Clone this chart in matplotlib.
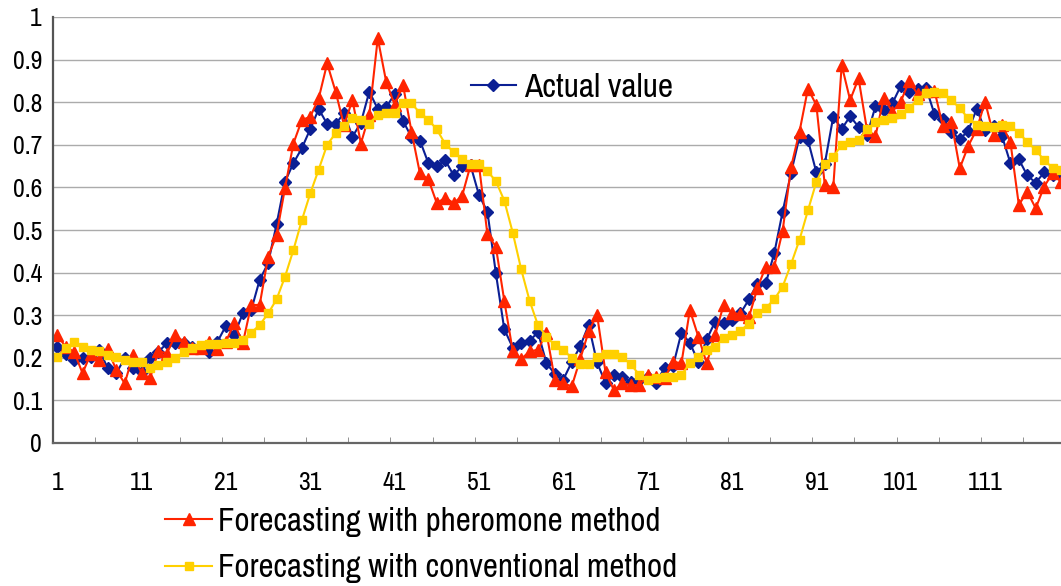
import matplotlib
matplotlib.use("Agg")
import matplotlib.pyplot as plt
from matplotlib import font_manager
from matplotlib.ticker import FixedLocator

# pick a narrow face if one is installed
fonts = font_manager.fontManager.ttflist
narrow = [f.name for f in fonts if 'Narrow' in f.name or 'Condensed' in f.name]
if narrow:
    plt.rcParams['font.family'] = [narrow[0], 'DejaVu Sans']
else:
    plt.rcParams['font.family'] = ['Liberation Sans', 'DejaVu Sans']

# series values
actual = [0.226, 0.210, 0.195, 0.199, 0.203, 0.218, 0.175, 0.164, 0.199, 0.175,
          0.167, 0.199, 0.214, 0.234, 0.234, 0.234, 0.226, 0.222, 0.214, 0.238,
          0.275, 0.254, 0.304, 0.312, 0.383, 0.422, 0.513, 0.613, 0.657, 0.692,
          0.737, 0.784, 0.749, 0.749, 0.774, 0.719, 0.752, 0.825, 0.784, 0.788,
          0.819, 0.756, 0.718, 0.710, 0.657, 0.650, 0.664, 0.628, 0.650, 0.652,
          0.582, 0.543, 0.399, 0.267, 0.224, 0.234, 0.240, 0.260, 0.187, 0.162,
          0.149, 0.190, 0.227, 0.277, 0.189, 0.141, 0.160, 0.154, 0.144, 0.148,
          0.156, 0.140, 0.177, 0.180, 0.259, 0.235, 0.191, 0.243, 0.285, 0.282,
          0.289, 0.304, 0.337, 0.374, 0.375, 0.445, 0.543, 0.634, 0.719, 0.711,
          0.635, 0.656, 0.766, 0.737, 0.767, 0.742, 0.722, 0.790, 0.781, 0.797,
          0.838, 0.825, 0.831, 0.834, 0.772, 0.761, 0.731, 0.713, 0.733, 0.784,
          0.735, 0.744, 0.721, 0.657, 0.666, 0.628, 0.611, 0.635, 0.630, 0.630]

pheromone = [0.253, 0.226, 0.214, 0.164, 0.210, 0.195, 0.220, 0.171, 0.140, 0.207,
             0.164, 0.152, 0.216, 0.210, 0.253, 0.238, 0.222, 0.222, 0.238, 0.220,
             0.238, 0.282, 0.234, 0.324, 0.324, 0.437, 0.488, 0.598, 0.703, 0.758,
             0.766, 0.809, 0.891, 0.825, 0.746, 0.805, 0.703, 0.770, 0.950, 0.848,
             0.794, 0.840, 0.731, 0.633, 0.619, 0.563, 0.576, 0.563, 0.580, 0.652,
             0.652, 0.490, 0.461, 0.334, 0.216, 0.197, 0.215, 0.219, 0.259, 0.148,
             0.140, 0.133, 0.197, 0.262, 0.301, 0.166, 0.124, 0.140, 0.136, 0.136,
             0.160, 0.156, 0.152, 0.191, 0.187, 0.312, 0.250, 0.187, 0.254, 0.324,
             0.306, 0.302, 0.295, 0.363, 0.414, 0.414, 0.498, 0.648, 0.731, 0.832,
             0.793, 0.605, 0.600, 0.887, 0.805, 0.856, 0.735, 0.720, 0.811, 0.778,
             0.801, 0.850, 0.819, 0.827, 0.827, 0.743, 0.754, 0.645, 0.697, 0.736,
             0.801, 0.723, 0.747, 0.707, 0.559, 0.590, 0.551, 0.602, 0.633, 0.613]

conventional = [0.201, 0.222, 0.238, 0.226, 0.218, 0.216, 0.206, 0.201, 0.195, 0.191,
                0.189, 0.175, 0.183, 0.191, 0.199, 0.214, 0.222, 0.230, 0.232, 0.232,
                0.234, 0.234, 0.242, 0.259, 0.277, 0.304, 0.337, 0.390, 0.453, 0.523,
                0.586, 0.642, 0.700, 0.727, 0.743, 0.762, 0.758, 0.750, 0.770, 0.775,
                0.774, 0.799, 0.797, 0.775, 0.759, 0.736, 0.702, 0.683, 0.667, 0.656,
                0.656, 0.638, 0.615, 0.569, 0.494, 0.408, 0.334, 0.276, 0.250, 0.230,
                0.218, 0.200, 0.186, 0.185, 0.201, 0.209, 0.208, 0.201, 0.185, 0.160,
                0.147, 0.152, 0.156, 0.156, 0.160, 0.187, 0.203, 0.218, 0.226, 0.246,
                0.254, 0.264, 0.280, 0.304, 0.317, 0.337, 0.367, 0.420, 0.477, 0.546,
                0.613, 0.655, 0.672, 0.700, 0.707, 0.712, 0.736, 0.753, 0.758, 0.764,
                0.772, 0.786, 0.806, 0.821, 0.825, 0.822, 0.805, 0.786, 0.762, 0.747,
                0.744, 0.741, 0.747, 0.744, 0.728, 0.707, 0.688, 0.664, 0.646, 0.641]

x = list(range(1, len(actual) + 1))
x_labels = list(range(1, 112, 10))
y_ticks = [i / 10 for i in range(11)]
y_labels = ['0', '0.1', '0.2', '0.3', '0.4', '0.5', '0.6', '0.7', '0.8', '0.9', '1']

fig = plt.figure(figsize=(10.61, 5.86), dpi=100)
ax = fig.add_axes([53 / 1061, 143 / 586, 1 - 53 / 1061, 426 / 586])

l1, = ax.plot(x, actual, color='#0B1F94', lw=1.5, marker='D', ms=6.3,
              label='Actual value')
l2, = ax.plot(x, pheromone, color='#FF2400', lw=1.5, marker='^', ms=8.5,
              label='Forecasting with pheromone method')
l3, = ax.plot(x, conventional, color='#FFD000', lw=1.5, marker='s', ms=6.3,
              label='Forecasting with conventional method')

ax.set_xlim(0.5, 120.0)
ax.set_ylim(0, 1)
ax.set_yticks(y_ticks)
ax.set_yticklabels(y_labels)
ax.set_xticks(x_labels)
ax.set_xticklabels([str(v) for v in x_labels])
ax.xaxis.set_minor_locator(FixedLocator([k + 0.5 for k in range(5, 120, 5)]))
ax.tick_params(axis='x', which='major', length=0, pad=20, labelsize=18.5)
ax.tick_params(axis='x', which='minor', length=4, direction='in', color='#808080')
ax.tick_params(axis='y', length=0, pad=8, labelsize=18.5)

ax.grid(axis='y', color='#ABABAB', lw=1)
ax.set_axisbelow(True)
for s in ['top', 'right']:
    ax.spines[s].set_visible(False)
ax.spines['left'].set_color('#555555')
ax.spines['left'].set_linewidth(1.6)
ax.spines['bottom'].set_color('#666666')
ax.spines['bottom'].set_linewidth(1.6)

ax.legend(handles=[l1], loc='center left', bbox_to_anchor=(0.401, 0.833),
          frameon=False, fontsize=24, handlelength=1.35, handletextpad=0.25,
          borderaxespad=0)
fig.legend(handles=[l2, l3], loc='center left', bbox_to_anchor=(152 / 1061, 1 - 545 / 586),
           frameon=False, fontsize=23.7, handlelength=1.42, handletextpad=0.2,
           labelspacing=0.5, borderaxespad=0)

fig.savefig('out.png', dpi=100)
